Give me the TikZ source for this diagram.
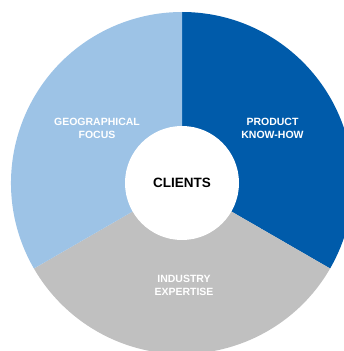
\documentclass[tikz,border=0pt]{standalone}
\usepackage{fontspec}
\setmainfont{Liberation Sans}
\definecolor{knowblue}{RGB}{0,91,170}
\definecolor{geoblue}{RGB}{157,195,230}
\definecolor{indgray}{RGB}{192,192,192}
\begin{document}
\begin{tikzpicture}[x=1pt,y=1pt,
    hub/.style={circle,fill=white,minimum size=114pt,inner sep=0pt,
      font=\fontsize{13.5}{16}\selectfont\bfseries},
    label/.style={text=white,align=center,
      font=\fontsize{10.5}{13.5}\selectfont\bfseries}]
    \useasboundingbox (0,0) rectangle (344,351);
    \clip (0,0) rectangle (344,351);
    \coordinate (c) at (182,168);
    % sectors
    \foreach \a/\b/\col in {90/-30/knowblue,-30/-150/indgray,210/90/geoblue} {
      \fill[\col] (c) -- ++(\a:171) arc (\a:\b:171) -- cycle;
    }
    \node[hub] (clients) at (c) {CLIENTS};
    %
    \node[label] (geo) at (97,222.5) {GEOGRAPHICAL\\FOCUS};
    \node[label] (know) at (272.5,222.5) {PRODUCT\\KNOW-HOW};
    \node[label] (ind) at (184,65.5) {INDUSTRY\\EXPERTISE};
  \end{tikzpicture}
\end{document}
